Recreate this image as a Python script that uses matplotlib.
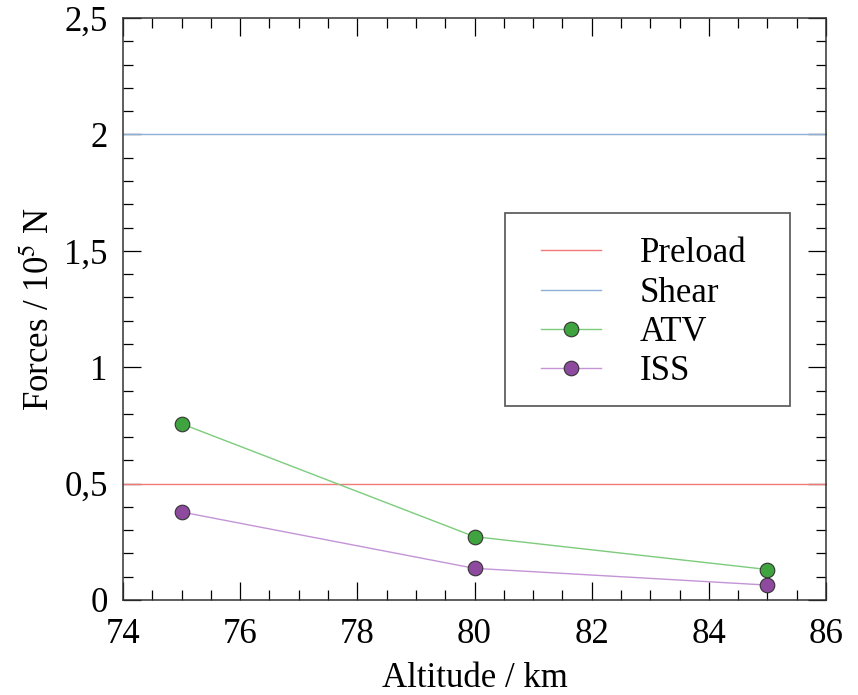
import matplotlib.pyplot as plt
from matplotlib.patches import Rectangle
from matplotlib.ticker import MultipleLocator, FuncFormatter

plt.rcParams['font.family'] = ['Liberation Serif', 'DejaVu Serif']
plt.rcParams['mathtext.fontset'] = 'stix'

# data
altitude = [75, 80, 85]
atv = [0.757, 0.272, 0.131]
iss = [0.378, 0.136, 0.064]
preload = 0.5
shear = 2.0

fig = plt.figure(figsize=(8.58, 6.95), dpi=100)
ax = fig.add_axes([0.1434, 0.1367, 0.8193, 0.8373])

ax.axhline(preload, color='#f07a7a', lw=1.0, label='Preload')
ax.axhline(shear, color='#8fb0d6', lw=1.0, label='Shear')
ax.plot(altitude, atv, color='#7ccc7c', lw=1.0, marker='o', ms=10.5,
        mfc='#3fa33f', mec='#333333', mew=0.8, label='ATV')
ax.plot(altitude, iss, color='#c494d6', lw=1.0, marker='o', ms=10.5,
        mfc='#8e4a9e', mec='#333333', mew=0.8, label='ISS')

ax.set_xlim(74, 86)
ax.set_ylim(0, 2.5)
ax.xaxis.set_major_locator(MultipleLocator(2))
ax.xaxis.set_minor_locator(MultipleLocator(0.5))
ax.yaxis.set_major_locator(MultipleLocator(0.5))
ax.yaxis.set_minor_locator(MultipleLocator(0.1))
ax.yaxis.set_major_formatter(FuncFormatter(lambda v, p: ('%g' % v).replace('.', ',')))

ax.tick_params(which='both', direction='in', top=True, right=True, labelsize=25)
ax.tick_params(axis='x', pad=13)
ax.tick_params(axis='y', pad=11)
ax.tick_params(which='major', length=13, width=0.9)
ax.tick_params(which='minor', length=7, width=0.9)
for s in ax.spines.values():
    s.set_linewidth(1.1)
    s.set_color('#333333')

ax.set_xlabel('Altitude / km', fontsize=25, labelpad=8)
ax.set_ylabel(r'Forces / 10$^5$ N', fontsize=25, labelpad=5)

# legend box drawn separately so the padding can match
ax.add_patch(Rectangle((0.5434, 0.3333), 0.4054, 0.3317, transform=ax.transAxes,
                       facecolor='white', edgecolor='#606060', lw=1.3, zorder=4))
leg = ax.legend(loc='upper left', bbox_to_anchor=(0.594, 0.623), fontsize=25,
                frameon=False, handlelength=1.75, handletextpad=1.1,
                borderpad=0, labelspacing=0.18, borderaxespad=0)
leg.set_zorder(5)

fig.savefig('out.png', dpi=100)
